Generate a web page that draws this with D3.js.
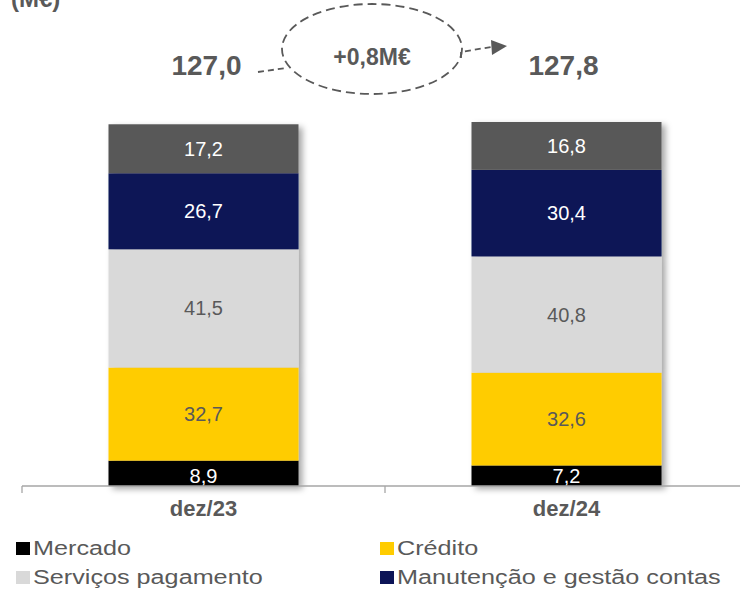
<!DOCTYPE html>
<html>
<head>
<meta charset="utf-8">
<script src="https://cdn.jsdelivr.net/npm/d3@7"></script>
<style>
  body { margin: 0; background: #fff; }
  svg { display: block; font-family: "Liberation Sans", Arial, sans-serif; }
</style>
</head>
<body>
<svg id="chart" width="740" height="591"></svg>
<script>
// categories and stacked series (bottom to top)
const categories = ["dez/23", "dez/24"];
const seriesNames = ["Mercado", "Crédito", "Serviços pagamento", "Manutenção e gestão contas", "Outros"];
const mercado = [8.9, 7.2];
const credito = [32.7, 32.6];
const servicos = [41.5, 40.8];
const manutencao = [26.7, 30.4];
const outros = [17.2, 16.8];
const totals = ["127,0", "127,8"];
const variation = "+0,8M€";
const legendNames = ["Mercado", "Crédito", "Serviços pagamento", "Manutenção e gestão contas"];

const colors = ["#000000", "#FFCC00", "#D9D9D9", "#0C1457", "#595959"];
const labelColors = ["#fff", "#595959", "#595959", "#fff", "#fff"];
const textGray = "#595959";

const svg = d3.select("#chart");

// drop shadow for bars
const defs = svg.append("defs");
const f = defs.append("filter").attr("id", "shadow")
  .attr("x", "-10%").attr("y", "-10%").attr("width", "130%").attr("height", "130%");
f.append("feDropShadow").attr("dx", 4).attr("dy", 3).attr("stdDeviation", 3)
  .attr("flood-color", "#000").attr("flood-opacity", 0.35);

const rows = categories.map((c, i) => ({
  cat: c,
  [seriesNames[0]]: mercado[i],
  [seriesNames[1]]: credito[i],
  [seriesNames[2]]: servicos[i],
  [seriesNames[3]]: manutencao[i],
  [seriesNames[4]]: outros[i]
}));

const stacked = d3.stack().keys(seriesNames)(rows);

const x = d3.scaleBand().domain(categories).range([22, 748]);
const barW = 190;
const y = d3.scaleLinear().domain([0, 127.8]).range([486, 122]);

const barX = c => x(c) + x.bandwidth() / 2 - barW / 2;
const mid = c => x(c) + x.bandwidth() / 2;

// bars
const barsG = svg.append("g");
categories.forEach((c, ci) => {
  const g = barsG.append("g").attr("filter", "url(#shadow)");
  stacked.forEach((s, si) => {
    const d = s[ci];
    g.append("rect")
      .attr("x", barX(c)).attr("width", barW)
      .attr("y", y(d[1])).attr("height", y(d[0]) - y(d[1]))
      .attr("fill", colors[si]);
  });
});

// segment labels
stacked.forEach((s, si) => {
  s.forEach((d, ci) => {
    const c = categories[ci];
    const cy = (y(d[0]) + y(d[1])) / 2;
    svg.append("text")
      .attr("x", mid(c))
      .attr("y", si === 0 ? y(d[0]) - 3 : cy + 7)
      .attr("text-anchor", "middle")
      .attr("font-size", 20)
      .attr("fill", labelColors[si])
      .text(d3.format(".1f")(d[1] - d[0]).replace(".", ","));
  });
});

// axis
const axisG = svg.append("g").attr("transform", "translate(0,486)");
axisG.append("line").attr("x1", 22).attr("x2", 740).attr("stroke", "#A6A6A6").attr("stroke-width", 1.3);
[...categories.map(c => x(c)), x.range()[1]].forEach(t => {
  axisG.append("line").attr("x1", t).attr("x2", t).attr("y1", 0).attr("y2", 7)
    .attr("stroke", "#A6A6A6").attr("stroke-width", 1.3);
});
categories.forEach(c => {
  svg.append("text")
    .attr("x", mid(c)).attr("y", 516)
    .attr("text-anchor", "middle").attr("font-size", 22).attr("font-weight", "bold")
    .attr("fill", textGray).text(c);
});

// totals
categories.forEach((c, i) => {
  svg.append("text")
    .attr("x", mid(c) + (i === 0 ? 3 : -3)).attr("y", 75)
    .attr("text-anchor", "middle").attr("font-size", 28).attr("font-weight", "bold")
    .attr("fill", textGray).text(totals[i]);
});

// unit label (cut off by top edge, as in the source)
svg.append("text").attr("x", 11).attr("y", 7)
  .attr("font-size", 24).attr("font-weight", "bold").attr("fill", textGray).text("(M€)");

// variation bubble
svg.append("ellipse").attr("cx", 372).attr("cy", 49).attr("rx", 90).attr("ry", 45)
  .attr("fill", "none").attr("stroke", textGray).attr("stroke-width", 1.8)
  .attr("stroke-dasharray", "9,5");
svg.append("text").attr("x", 372).attr("y", 65)
  .attr("text-anchor", "middle").attr("font-size", 23).attr("font-weight", "bold")
  .attr("fill", textGray).text(variation);
svg.append("line").attr("x1", 258).attr("y1", 72).attr("x2", 286).attr("y2", 68)
  .attr("stroke", textGray).attr("stroke-width", 1.8).attr("stroke-dasharray", "6,4");
svg.append("path").attr("d", "M461,58L461,52L491,47")
  .attr("fill", "none").attr("stroke", textGray).attr("stroke-width", 1.8)
  .attr("stroke-dasharray", "6,4");
svg.append("path").attr("d", "M491,40L507,46L492,55Z").attr("fill", textGray);

// legend
const legendPos = [[16, 555], [380, 555], [16, 584], [380, 584]];
legendNames.forEach((n, i) => {
  const [lx, ly] = legendPos[i];
  svg.append("rect").attr("x", lx).attr("y", ly - 13).attr("width", 14).attr("height", 13)
    .attr("fill", colors[seriesNames.indexOf(n)]);
  svg.append("text")
    .attr("transform", `translate(${lx + 17},${ly}) scale(1.2,1)`)
    .attr("font-size", 21).attr("fill", textGray).text(n);
});
</script>
</body>
</html>
